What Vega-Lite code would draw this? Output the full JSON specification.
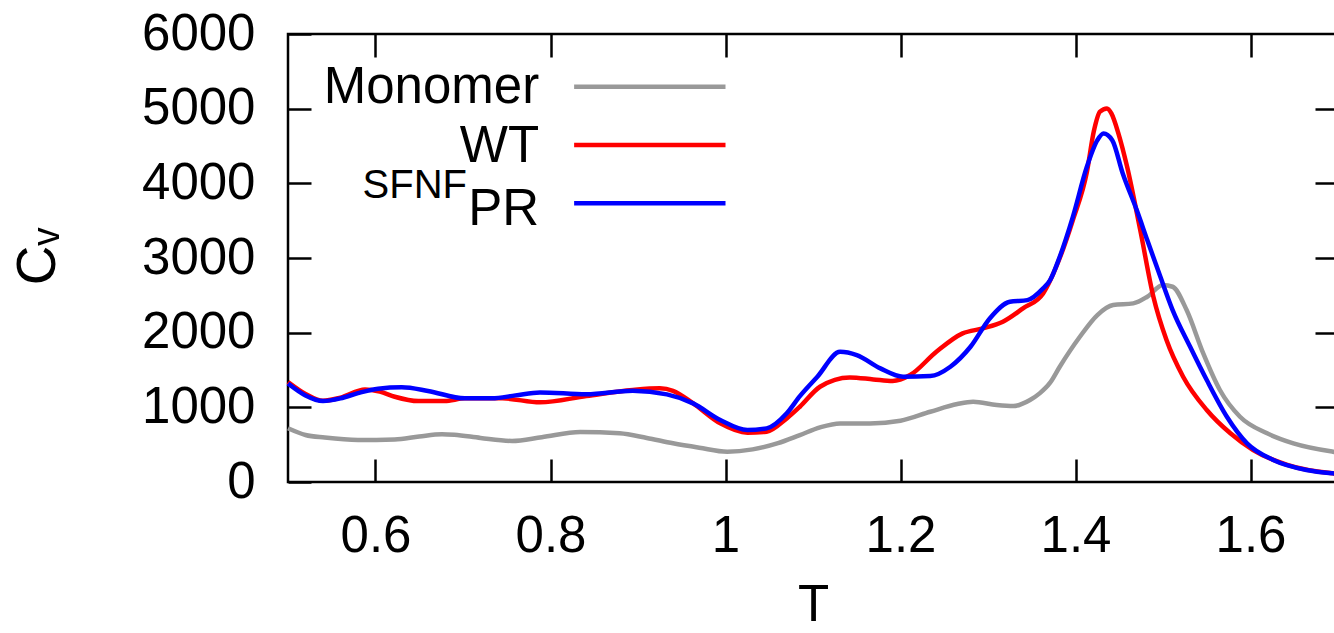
{
  "$schema": "https://vega.github.io/schema/vega-lite/v6.json",
  "width": 1050,
  "height": 448,
  "autosize": {"type": "none"},
  "padding": {"left": 288, "top": 34, "right": 0, "bottom": 151},
  "background": "white",
  "config": {
    "view": {"stroke": "black", "strokeWidth": 2.5},
    "legend": {"disable": true},
    "axis": {
      "domain": false, "grid": false,
      "tickColor": "black", "tickWidth": 2.5, "tickSize": -23,
      "labelFont": "Liberation Sans", "labelFontSize": 51, "labelColor": "black",
      "titleFont": "Liberation Sans", "titleFontSize": 51, "titleFontWeight": "normal", "titleColor": "black",
      "labelFlush": false, "labelOverlap": false
    }
  },
  "data": {"values": [
    {"series":"Monomer","T":0.5,"Cv":720},{"series":"Monomer","T":0.52,"Cv":630},{"series":"Monomer","T":0.542,"Cv":595},{"series":"Monomer","T":0.58,"Cv":562},{"series":"Monomer","T":0.622,"Cv":569},{"series":"Monomer","T":0.65,"Cv":610},{"series":"Monomer","T":0.676,"Cv":640},{"series":"Monomer","T":0.69,"Cv":633},{"series":"Monomer","T":0.72,"Cv":590},{"series":"Monomer","T":0.756,"Cv":550},{"series":"Monomer","T":0.79,"Cv":600},{"series":"Monomer","T":0.834,"Cv":670},{"series":"Monomer","T":0.879,"Cv":652},{"series":"Monomer","T":0.91,"Cv":590},{"series":"Monomer","T":0.94,"Cv":518},{"series":"Monomer","T":0.97,"Cv":460},{"series":"Monomer","T":1.002,"Cv":406},{"series":"Monomer","T":1.031,"Cv":437},{"series":"Monomer","T":1.06,"Cv":520},{"series":"Monomer","T":1.085,"Cv":629},{"series":"Monomer","T":1.108,"Cv":732},{"series":"Monomer","T":1.131,"Cv":785},{"series":"Monomer","T":1.165,"Cv":785},{"series":"Monomer","T":1.2,"Cv":821},{"series":"Monomer","T":1.234,"Cv":941},{"series":"Monomer","T":1.265,"Cv":1044},{"series":"Monomer","T":1.283,"Cv":1075},{"series":"Monomer","T":1.31,"Cv":1031},{"series":"Monomer","T":1.329,"Cv":1017},{"series":"Monomer","T":1.348,"Cv":1098},{"series":"Monomer","T":1.359,"Cv":1187},{"series":"Monomer","T":1.371,"Cv":1330},{"series":"Monomer","T":1.382,"Cv":1544},{"series":"Monomer","T":1.405,"Cv":1945},{"series":"Monomer","T":1.425,"Cv":2236},{"series":"Monomer","T":1.443,"Cv":2370},{"series":"Monomer","T":1.466,"Cv":2392},{"series":"Monomer","T":1.482,"Cv":2481},{"series":"Monomer","T":1.5,"Cv":2637},{"series":"Monomer","T":1.511,"Cv":2615},{"series":"Monomer","T":1.527,"Cv":2303},{"series":"Monomer","T":1.546,"Cv":1722},{"series":"Monomer","T":1.565,"Cv":1232},{"series":"Monomer","T":1.588,"Cv":874},{"series":"Monomer","T":1.619,"Cv":652},{"series":"Monomer","T":1.649,"Cv":518},{"series":"Monomer","T":1.694,"Cv":406},{"series":"Monomer","T":1.7,"Cv":395},
    {"series":"WT","T":0.5,"Cv":1340},{"series":"WT","T":0.52,"Cv":1180},{"series":"WT","T":0.54,"Cv":1088},{"series":"WT","T":0.56,"Cv":1130},{"series":"WT","T":0.588,"Cv":1240},{"series":"WT","T":0.605,"Cv":1210},{"series":"WT","T":0.622,"Cv":1142},{"series":"WT","T":0.649,"Cv":1084},{"series":"WT","T":0.679,"Cv":1084},{"series":"WT","T":0.702,"Cv":1120},{"series":"WT","T":0.745,"Cv":1120},{"series":"WT","T":0.788,"Cv":1067},{"series":"WT","T":0.841,"Cv":1151},{"series":"WT","T":0.894,"Cv":1232},{"series":"WT","T":0.925,"Cv":1254},{"series":"WT","T":0.94,"Cv":1222},{"series":"WT","T":0.963,"Cv":1053},{"series":"WT","T":0.994,"Cv":785},{"series":"WT","T":1.025,"Cv":660},{"series":"WT","T":1.047,"Cv":674},{"series":"WT","T":1.07,"Cv":852},{"series":"WT","T":1.085,"Cv":1008},{"series":"WT","T":1.108,"Cv":1276},{"series":"WT","T":1.142,"Cv":1401},{"series":"WT","T":1.169,"Cv":1374},{"series":"WT","T":1.191,"Cv":1352},{"series":"WT","T":1.211,"Cv":1432},{"series":"WT","T":1.241,"Cv":1744},{"series":"WT","T":1.271,"Cv":1990},{"series":"WT","T":1.294,"Cv":2057},{"series":"WT","T":1.317,"Cv":2146},{"series":"WT","T":1.34,"Cv":2325},{"series":"WT","T":1.363,"Cv":2526},{"series":"WT","T":1.382,"Cv":3000},{"series":"WT","T":1.397,"Cv":3509},{"series":"WT","T":1.413,"Cv":4150},{"series":"WT","T":1.421,"Cv":4700},{"series":"WT","T":1.428,"Cv":4960},{"series":"WT","T":1.436,"Cv":5003},{"series":"WT","T":1.441,"Cv":4937},{"series":"WT","T":1.449,"Cv":4670},{"series":"WT","T":1.459,"Cv":4221},{"series":"WT","T":1.474,"Cv":3373},{"series":"WT","T":1.489,"Cv":2481},{"series":"WT","T":1.504,"Cv":1901},{"series":"WT","T":1.523,"Cv":1410},{"series":"WT","T":1.55,"Cv":964},{"series":"WT","T":1.577,"Cv":652},{"series":"WT","T":1.603,"Cv":428},{"series":"WT","T":1.642,"Cv":228},{"series":"WT","T":1.694,"Cv":116},{"series":"WT","T":1.7,"Cv":110},
    {"series":"PR","T":0.5,"Cv":1320},{"series":"PR","T":0.52,"Cv":1160},{"series":"PR","T":0.54,"Cv":1085},{"series":"PR","T":0.56,"Cv":1120},{"series":"PR","T":0.58,"Cv":1190},{"series":"PR","T":0.603,"Cv":1250},{"series":"PR","T":0.63,"Cv":1268},{"series":"PR","T":0.66,"Cv":1220},{"series":"PR","T":0.702,"Cv":1120},{"series":"PR","T":0.733,"Cv":1120},{"series":"PR","T":0.76,"Cv":1160},{"series":"PR","T":0.788,"Cv":1200},{"series":"PR","T":0.841,"Cv":1174},{"series":"PR","T":0.894,"Cv":1222},{"series":"PR","T":0.933,"Cv":1174},{"series":"PR","T":0.963,"Cv":1053},{"series":"PR","T":0.994,"Cv":830},{"series":"PR","T":1.025,"Cv":696},{"series":"PR","T":1.047,"Cv":718},{"series":"PR","T":1.07,"Cv":920},{"series":"PR","T":1.085,"Cv":1150},{"series":"PR","T":1.105,"Cv":1410},{"series":"PR","T":1.131,"Cv":1744},{"series":"PR","T":1.15,"Cv":1700},{"series":"PR","T":1.177,"Cv":1522},{"series":"PR","T":1.203,"Cv":1410},{"series":"PR","T":1.234,"Cv":1419},{"series":"PR","T":1.257,"Cv":1544},{"series":"PR","T":1.28,"Cv":1811},{"series":"PR","T":1.302,"Cv":2191},{"series":"PR","T":1.325,"Cv":2414},{"series":"PR","T":1.345,"Cv":2436},{"series":"PR","T":1.363,"Cv":2593},{"series":"PR","T":1.371,"Cv":2704},{"series":"PR","T":1.382,"Cv":3016},{"series":"PR","T":1.397,"Cv":3551},{"series":"PR","T":1.413,"Cv":4221},{"series":"PR","T":1.425,"Cv":4578},{"series":"PR","T":1.432,"Cv":4668},{"series":"PR","T":1.442,"Cv":4578},{"series":"PR","T":1.454,"Cv":4132},{"series":"PR","T":1.47,"Cv":3641},{"series":"PR","T":1.482,"Cv":3240},{"series":"PR","T":1.497,"Cv":2748},{"series":"PR","T":1.511,"Cv":2303},{"series":"PR","T":1.531,"Cv":1811},{"series":"PR","T":1.55,"Cv":1365},{"series":"PR","T":1.573,"Cv":874},{"series":"PR","T":1.596,"Cv":518},{"series":"PR","T":1.626,"Cv":295},{"series":"PR","T":1.664,"Cv":161},{"series":"PR","T":1.694,"Cv":116},{"series":"PR","T":1.7,"Cv":110}
  ]},
  "resolve": {"axis": {"x": "independent", "y": "independent"}},
  "layer": [
    {
      "mark": {"type": "line", "strokeWidth": 4.5, "interpolate": "monotone"},
      "encoding": {
        "x": {"field": "T", "type": "quantitative", "scale": {"domain": [0.5, 1.7], "nice": false, "zero": false},
              "axis": {"orient": "bottom", "values": [0.6, 0.8, 1, 1.2, 1.4, 1.6], "format": "~g", "labelPadding": 52,
                       "title": "T", "titleY": 138, "titleBaseline": "alphabetic"}},
        "y": {"field": "Cv", "type": "quantitative", "scale": {"domain": [0, 6000], "nice": false},
              "axis": {"orient": "left", "values": [0, 1000, 2000, 3000, 4000, 5000, 6000], "format": "d", "labelPadding": 56,
                       "title": "Cᵥ", "titleFontSize": 55, "titleX": -234, "titleY": 222, "titleAngle": -90, "titleAlign": "center", "titleBaseline": "alphabetic"}},
        "color": {"field": "series", "type": "nominal", "sort": null,
                  "scale": {"domain": ["Monomer", "WT", "PR"], "range": ["#999999", "#ff0000", "#0000ff"]}, "legend": null}
      }
    },
    {
      "mark": {"type": "point", "opacity": 0, "size": 0},
      "encoding": {
        "x": {"field": "T", "type": "quantitative", "axis": {"orient": "top", "labels": false, "title": null, "values": [0.6, 0.8, 1, 1.2, 1.4, 1.6]}},
        "y": {"field": "Cv", "type": "quantitative", "axis": {"orient": "right", "labels": false, "title": null, "values": [1000, 2000, 3000, 4000, 5000]}}
      }
    },
    {
      "data": {"values": [{}]},
      "mark": {"type": "rule", "strokeWidth": 4.5},
      "encoding": {"x": {"datum": 0.827, "axis": null}, "x2": {"datum": 1.0}, "y": {"datum": 5294, "axis": null}, "color": {"datum": "Monomer", "legend": null}}
    },
    {
      "data": {"values": [{}]},
      "mark": {"type": "rule", "strokeWidth": 4.5},
      "encoding": {"x": {"datum": 0.827, "axis": null}, "x2": {"datum": 1.0}, "y": {"datum": 4513, "axis": null}, "color": {"datum": "WT", "legend": null}}
    },
    {
      "data": {"values": [{}]},
      "mark": {"type": "rule", "strokeWidth": 4.5},
      "encoding": {"x": {"datum": 0.827, "axis": null}, "x2": {"datum": 1.0}, "y": {"datum": 3732, "axis": null}, "color": {"datum": "PR", "legend": null}}
    },
    {
      "data": {"values": [{"label": "Monomer"}]},
      "mark": {"type": "text", "align": "right", "baseline": "alphabetic", "fontSize": 51, "font": "Liberation Sans", "color": "black"},
      "encoding": {"x": {"datum": 0.787, "axis": null}, "y": {"datum": 5072, "axis": null}, "text": {"field": "label"}}
    },
    {
      "data": {"values": [{"label": "WT"}]},
      "mark": {"type": "text", "align": "right", "baseline": "alphabetic", "fontSize": 51, "font": "Liberation Sans", "color": "black"},
      "encoding": {"x": {"datum": 0.787, "axis": null}, "y": {"datum": 4290, "axis": null}, "text": {"field": "label"}}
    },
    {
      "data": {"values": [{"label": "PR"}]},
      "mark": {"type": "text", "align": "right", "baseline": "alphabetic", "fontSize": 51, "font": "Liberation Sans", "color": "black"},
      "encoding": {"x": {"datum": 0.787, "axis": null}, "y": {"datum": 3442, "axis": null}, "text": {"field": "label"}}
    },
    {
      "data": {"values": [{"label": "SFNF"}]},
      "mark": {"type": "text", "align": "right", "baseline": "alphabetic", "fontSize": 40, "font": "Liberation Sans", "color": "black"},
      "encoding": {"x": {"datum": 0.7046, "axis": null}, "y": {"datum": 3804, "axis": null}, "text": {"field": "label"}}
    }
  ]
}
